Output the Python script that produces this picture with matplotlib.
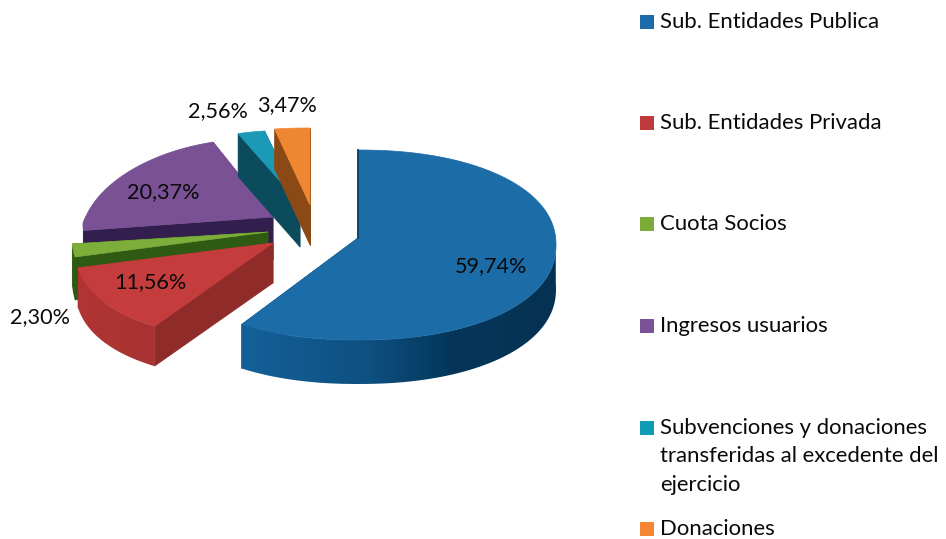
import numpy as np
import matplotlib
matplotlib.use("Agg")
import matplotlib.pyplot as plt
from matplotlib.patches import Polygon, Rectangle
from matplotlib.colors import to_rgb

# income shares, in percent
categories = ["Sub. Entidades Publica", "Sub. Entidades Privada", "Cuota Socios",
              "Ingresos usuarios",
              "Subvenciones y donaciones\ntransferidas al excedente del\nejercicio",
              "Donaciones"]
shares = [59.74, 11.56, 2.30, 20.37, 2.56, 3.47]

top_colors = ["#1c6ca8", "#c43d3c", "#7dae3c", "#7a5195", "#1b99b6", "#ee8632"]
face_colors = ["#0b3f66", "#8f2c2a", "#2f5a14", "#321f4d", "#0b4b5c", "#8b4a15"]
wall_stops = [[(245, "#14609a"), (370, "#0e5080"), (450, "#04365a"), (556, "#063252")],
              [(80, "#b03534"), (152, "#a83332")],
              [(70, "#2f5a14"), (90, "#2f5a14")],
              [(80, "#321f4d"), (220, "#321f4d")],
              [(230, "#0b4b5c"), (270, "#0b4b5c")],
              [(270, "#8b4a15"), (312, "#8b4a15")]]
legend_colors = ["#1b6ca8", "#c0393b", "#7aab3a", "#7b5197", "#0e9cb5", "#f58634"]

# pie geometry per slice: apex x, apex y, rx, ry, centre drop, back taper, height, squareness
geometry = [(358, 238, 198, 95, 7, 0.0, 44, 2.15),
            (273, 243, 198, 94, 3, 0.0, 40, 2.3),
            (268, 232, 196, 90, 4, 0.0, 43, 2.3),
            (273, 217, 190, 85, 6, 0.175, 43, 2.3),
            (300, 204, 196, 74, 0, 0.175, 43, 2.3),
            (310, 205, 196, 77, 0, 0.175, 40, 2.3)]
draw_order = [3, 2, 1, 4, 5, 0]

label_xy = [(491, 266), (150, 282), (40, 317), (163, 192), (218, 111), (287, 105)]
legend_y = [22, 123, 224, 326, 428, 529]

TEXT = "#0a0a0a"
FONT = "Lato"

fig = plt.figure(figsize=(9.46, 5.39), dpi=100)
ax = fig.add_axes([0, 0, 1, 1])
ax.set_xlim(0, 946)
ax.set_ylim(539, 0)
ax.axis("off")

z = [1]


def next_z():
    z[0] += 1
    return z[0]


def rim(theta, g):
    ax_, ay_, rx, ry, drop, taper, _, n = g
    c, s = np.cos(theta), np.sin(theta)
    r = (np.abs(c) ** n + np.abs(s) ** n) ** (-1 / n)
    u, v = r * c, r * s
    return ax_ + rx * u * (1 - taper * np.maximum(v, 0)), ay_ + drop - ry * v


def gradient_wall(xs, ys, stops):
    poly = Polygon(np.column_stack([xs, ys]), closed=True, fc="none", ec="none")
    ax.add_patch(poly)
    x0, x1 = stops[0][0], stops[-1][0]
    grid = np.linspace(x0, x1, 200)
    rgb = [np.interp(grid, [p for p, _ in stops], [to_rgb(c)[i] for _, c in stops]) for i in range(3)]
    img = np.dstack(rgb)
    y0, y1 = ys.min(), ys.max()
    im = ax.imshow(img, extent=(x0 - 0.5, x1 + 0.5, y1, y0), aspect="auto", zorder=next_z(),
                   interpolation="bilinear")
    im.set_clip_path(poly)
    ax.set_xlim(0, 946)
    ax.set_ylim(539, 0)


# slice angles run clockwise from twelve o'clock
edges = 90 - np.cumsum([0] + shares) * 3.6

for i in draw_order:
    g = geometry[i]
    apex = np.array(g[:2], dtype=float)
    h = g[6]
    theta = np.radians(np.linspace(edges[i], edges[i + 1], 160))
    x, y = rim(theta, g)

    # straight cut faces, both extruded
    for k in (0, -1):
        quad = [apex, (x[k], y[k]), (x[k], y[k] + h), apex + (0, h)]
        ax.add_patch(Polygon(quad, closed=True, fc=face_colors[i], ec=face_colors[i], lw=0.5, zorder=next_z()))

    # curved outer wall on the front half
    front = y >= (g[1] + g[4] - 6)
    if front.any():
        xf, yf = x[front], y[front]
        wx = np.concatenate([xf, xf[::-1]])
        wy = np.concatenate([yf, yf[::-1] + h])
        stops = wall_stops[i]
        gradient_wall(wx, wy, [(min(wx.min(), stops[0][0]), stops[0][1])] + stops[1:-1]
                      + [(max(wx.max(), stops[-1][0]), stops[-1][1])])

    # top surface
    ax.add_patch(Polygon(np.vstack([apex, np.column_stack([x, y])]), closed=True,
                         fc=top_colors[i], ec=top_colors[i], lw=0.5, zorder=next_z()))

    if i == 0:
        ax.plot([apex[0], x[0]], [apex[1], y[0]], color=face_colors[0], lw=1.3, zorder=next_z())

for value, (lx, ly) in zip(shares, label_xy):
    ax.text(lx, ly, f"{value:.2f}".replace(".", ",") + "%", ha="center", va="center",
            fontsize=15.6, family=FONT, color=TEXT, zorder=100)

for name, color, ly in zip(categories, legend_colors, legend_y):
    ax.add_patch(Rectangle((640, ly - 7), 14, 14, fc=color, ec="none", zorder=100))
    ax.text(660, ly - 10, name, ha="left", va="top", fontsize=15.9, family=FONT, color=TEXT,
            linespacing=1.52, zorder=100)

fig.savefig("out.png", dpi=100)
